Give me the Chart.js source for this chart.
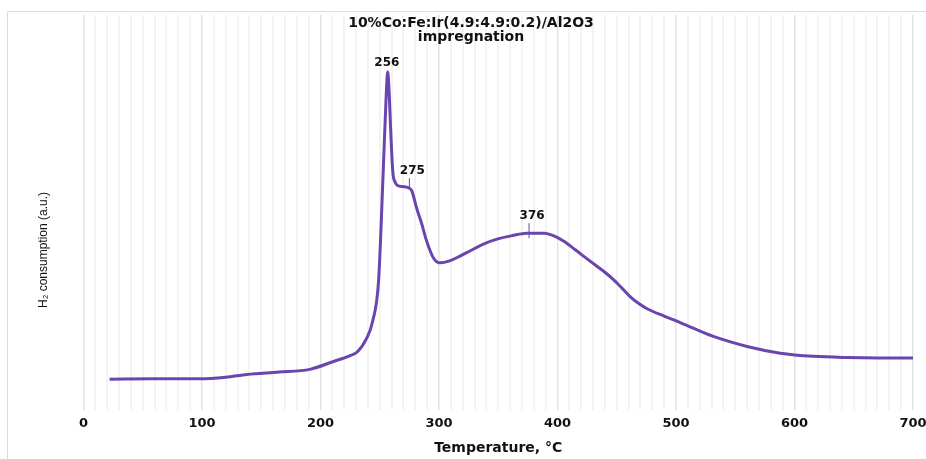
<!DOCTYPE html>
<html>
<head>
<meta charset="utf-8">
<script src="https://cdn.jsdelivr.net/npm/chart.js@4.4.1/dist/chart.umd.min.js"></script>
<style>
  body { margin: 0; background: #fff; }
</style>
</head>
<body>
<canvas id="tpr" width="926" height="459"></canvas>
<script>
// TPR profile (temperature in °C, H2 signal in arbitrary units)
const temps = [22, 60, 98, 120, 138, 165, 191, 211, 225, 231, 239, 244, 249, 253, 255.5, 256.7, 258, 259, 261, 263, 265, 270, 275, 277, 281, 285.4, 289.6, 295.2, 300.8, 309, 317.7, 326, 338, 349, 362, 374, 389, 397, 405, 415, 425, 433, 440, 447, 454, 461, 468, 476, 490, 504, 531, 560, 588, 616, 644, 670, 700];
const h2 = [7.7, 7.8, 7.8, 8.2, 8.9, 9.5, 10.2, 12.2, 13.7, 14.6, 18.1, 22.4, 32.6, 61.0, 80.0, 85.6, 80.0, 72.5, 60.3, 57.6, 56.8, 56.5, 56.1, 55.5, 51.2, 47.1, 42.7, 38.5, 37.2, 37.7, 38.9, 40.2, 42.0, 43.2, 44.1, 44.7, 44.7, 44.0, 42.7, 40.5, 38.2, 36.4, 34.8, 33.0, 30.9, 28.7, 27.0, 25.5, 23.7, 22.0, 18.6, 16.0, 14.3, 13.5, 13.2, 13.1, 13.1];

// peak labels
const peakTemps = [256, 275, 376];
const peakVals = [85.6, 56.1, 44.7];
const peakTick = [false, true, true];

const titleLines = ['10%Co:Fe:Ir(4.9:4.9:0.2)/Al2O3', 'impregnation'];

const points = temps.map((t, i) => ({ x: t, y: h2[i] }));

const extras = {
  id: 'extras',
  beforeDraw(chart) {
    const ctx = chart.ctx;
    ctx.save();
    ctx.strokeStyle = '#dedede';
    ctx.lineWidth = 1;
    ctx.beginPath();
    ctx.moveTo(7.5, chart.height);
    ctx.lineTo(7.5, 11.5);
    ctx.lineTo(chart.width, 11.5);
    ctx.stroke();
    ctx.restore();
  },
  afterDraw(chart) {
    const ctx = chart.ctx;
    const xs = chart.scales.x, ys = chart.scales.y;
    ctx.save();
    ctx.fillStyle = '#111';
    ctx.textAlign = 'center';
    ctx.textBaseline = 'middle';

    // title
    ctx.font = 'bold 14px "DejaVu Sans"';
    titleLines.forEach((l, i) => ctx.fillText(l, 471, 23 + i * 14));

    // y axis title
    ctx.save();
    ctx.translate(44, 250);
    ctx.rotate(-Math.PI / 2);
    ctx.font = '12px "Liberation Sans"';
    ctx.fillText('H\u2082 consumption (a.u.)', 0, 0);
    ctx.restore();

    // peak annotations
    ctx.font = 'bold 12px "DejaVu Sans"';
    ctx.strokeStyle = '#6a45ad';
    ctx.lineWidth = 1;
    peakTemps.forEach((t, i) => {
      const px = xs.getPixelForValue(t);
      const py = ys.getPixelForValue(peakVals[i]);
      if (peakTick[i]) {
        ctx.beginPath();
        ctx.moveTo(px, py - 10);
        ctx.lineTo(px, py + (i === 2 ? 5 : -1));
        ctx.stroke();
        ctx.fillText(String(t), px + 3, py - 17);
      } else {
        ctx.fillText(String(t), px, py - 9);
      }
    });
    ctx.restore();
  }
};

new Chart(document.getElementById('tpr'), {
  type: 'line',
  data: {
    datasets: [{
      data: points,
      borderColor: '#6a45ad',
      borderWidth: 3,
      pointRadius: 0,
      fill: false,
      cubicInterpolationMode: 'monotone'
    }]
  },
  options: {
    responsive: false,
    animation: false,
    layout: { padding: { top: 15, left: 83.5, right: 13, bottom: 0 } },
    plugins: { legend: { display: false }, tooltip: { enabled: false } },
    scales: {
      x: {
        type: 'linear',
        min: 0,
        max: 700,
        afterFit: axis => { axis.paddingLeft = 0; axis.paddingRight = 0; },
        grid: {
          drawTicks: false,
          color: c => (c.tick && c.tick.value % 100 === 0) ? '#e2e2e2' : '#f3f3f3',
          lineWidth: c => (c.tick && c.tick.value % 100 === 0) ? 1.5 : 2
        },
        border: { display: false },
        ticks: {
          stepSize: 10,
          autoSkip: false,
          maxRotation: 0,
          padding: 6,
          color: '#111',
          font: { family: '"DejaVu Sans"', weight: 'bold', size: 13 },
          callback: v => (v % 100 === 0 ? v : '')
        },
        title: {
          display: true,
          text: 'Temperature, °C',
          color: '#111',
          font: { family: '"DejaVu Sans"', weight: 'bold', size: 14 },
          padding: { top: 3, bottom: 2 }
        }
      },
      y: {
        display: false,
        min: 0,
        max: 100
      }
    }
  },
  plugins: [extras]
});
</script>
</body>
</html>
